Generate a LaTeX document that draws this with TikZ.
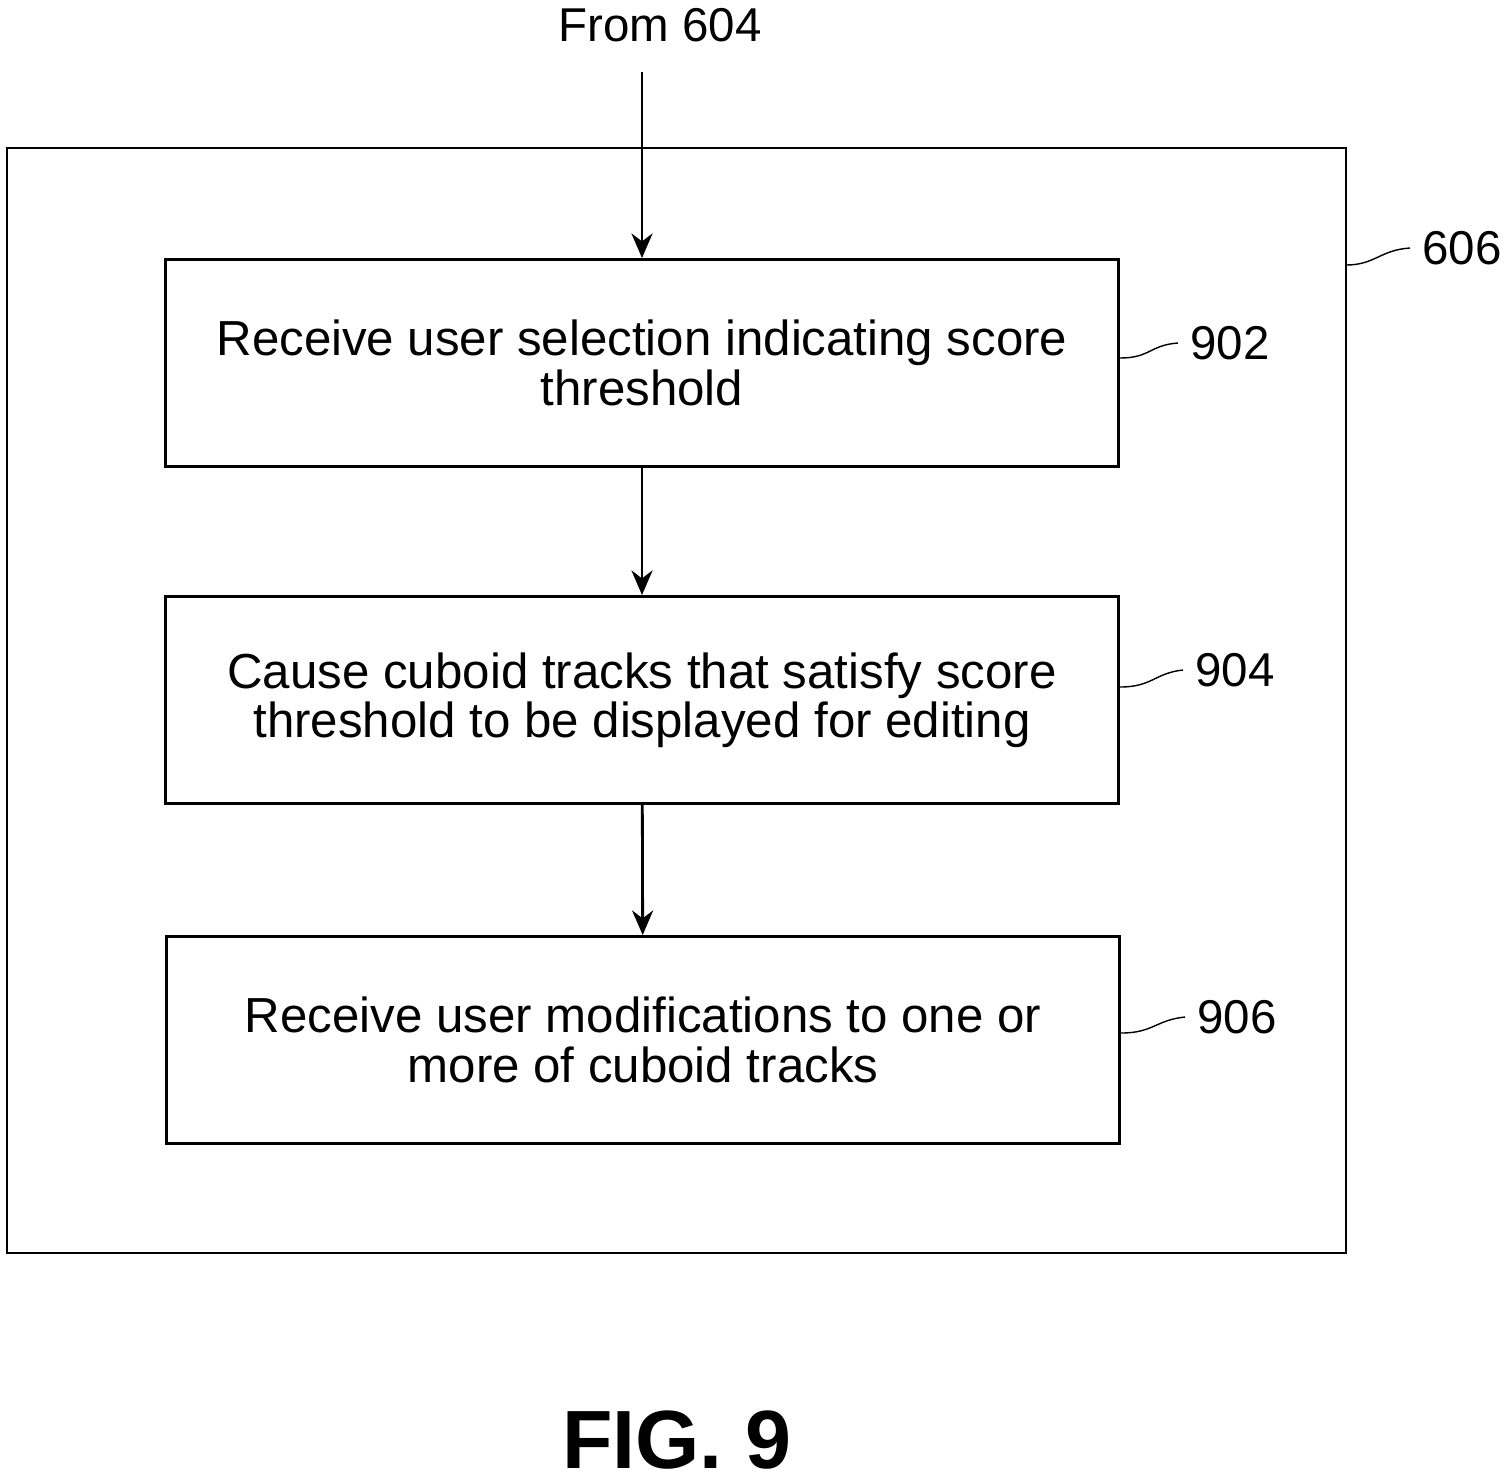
\documentclass[tikz,border=0pt]{standalone}
\usepackage{fontspec}
\setmainfont{Liberation Sans}
\usetikzlibrary{arrows.meta,positioning}

\begin{document}
\begin{tikzpicture}[x=0.01cm, y=-0.01cm,
    blk/.style={draw, thick, minimum width=9.53cm, minimum height=2.07cm,
        align=center, font=\fontsize{14}{14}\selectfont},
    flow/.style={thick, -{Stealth[length=7pt,width=6pt]}},
    tag/.style={font=\fontsize{13.5}{14}\selectfont},
    lead/.style={thin}]
    %% Background
    \useasboundingbox (0,0) rectangle (1506,1481);

    %% Outer block
    \draw[thick] (7,148) rectangle (1346,1253);
    \node[tag] (o606) at (1462,248) {606};
    \coordinate (e606) at (1346,265);
    \draw[lead] (e606) .. controls (1375,265) and (1380,250) .. (o606.west);

    %% Steps
    \node[tag] (from) at (660,25) {From 604};
    \node[blk] (s902) at (642,363) {Receive user selection indicating score\\threshold};
    \node[blk] (s904) at (642,700) {Cause cuboid tracks that satisfy score\\threshold to be displayed for editing};
    \node[blk] (s906) at (643,1040) {Receive user modifications to one or\\more of cuboid tracks};

    \coordinate (top) at (642,72);
    \draw[flow] (top) -- (s902.north);
    \draw[flow] (s902) -- (s904);
    \draw[flow] (s904) -- (s906);

    %% Labels
    \node[tag] (t902) at (1230,343) {902};
    \node[tag] (t904) at (1235,670) {904};
    \node[tag] (t906) at (1237,1017) {906};
    \draw[lead] (s902.east |- 0,358) .. controls (1150,358) and (1150,345) .. (t902.west);
    \draw[lead] (s904.east |- 0,687) .. controls (1152,687) and (1155,673) .. (t904.west);
    \draw[lead] (s906.east |- 0,1033) .. controls (1153,1033) and (1156,1020) .. (t906.west);

    %% Caption
    \node[font=\fontsize{23.5}{26}\selectfont\bfseries] (fig) at (677,1440) {FIG. 9};
\end{tikzpicture}
\end{document}
